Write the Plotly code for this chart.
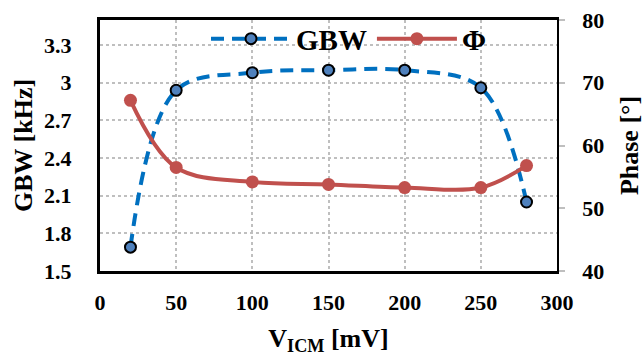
import plotly.graph_objects as go

# Input common-mode voltage sweep and measured results
vicm_mv = [20, 50, 100, 150, 200, 250, 280]
gbw_khz = [1.69, 2.94, 3.08, 3.10, 3.10, 2.96, 2.05]
phase_deg = [67.2, 56.5, 54.2, 53.8, 53.3, 53.3, 56.8]

x_ticks = [0, 50, 100, 150, 200, 250, 300]
gbw_ticks = [1.5, 1.8, 2.1, 2.4, 2.7, 3.0, 3.3]
gbw_tick_text = ["1.5", "1.8", "2.1", "2.4", "2.7", "3", "3.3"]
phase_ticks = [40, 50, 60, 70, 80]

SERIF = "Liberation Serif"
BLUE_LINE = "#0070C0"
BLUE_FILL = "#4F81BD"
RED = "#C0504D"
GRID = "#BFBFBF"


def bold(labels):
    return [f"<b>{t}</b>" for t in labels]


fig = go.Figure()

fig.add_trace(go.Scatter(
    x=vicm_mv, y=gbw_khz, name="GBW", yaxis="y",
    mode="lines+markers",
    line=dict(color=BLUE_LINE, width=4, dash="13px,8px", shape="spline"),
    marker=dict(size=11, color=BLUE_FILL, line=dict(color="black", width=2)),
))

fig.add_trace(go.Scatter(
    x=vicm_mv, y=phase_deg, name="Φ", yaxis="y2",
    mode="lines+markers",
    line=dict(color=RED, width=4, shape="spline"),
    marker=dict(size=13, color=RED),
))

tick_font = dict(family=SERIF, size=22, color="black")
title_font = dict(family=SERIF, size=26, color="black")

fig.update_layout(
    width=644, height=356,
    margin=dict(l=100, r=87, t=20, b=85),
    paper_bgcolor="white", plot_bgcolor="white",
    font=dict(family=SERIF, color="black"),
    showlegend=True,
    legend=dict(
        orientation="h", x=0.232, y=0.925, xanchor="left", yanchor="middle",
        bgcolor="rgba(0,0,0,0)", itemwidth=80,
        font=dict(family=SERIF, size=29, color="black", weight="bold"),
    ),
    xaxis=dict(
        range=[0, 300], tickvals=x_ticks, ticktext=bold(x_ticks),
        tickfont=tick_font, automargin=False,
        showgrid=True, gridcolor=GRID, gridwidth=2, griddash="dot",
        showline=True, linecolor="black", linewidth=3, mirror=True,
        ticks="outside", ticklen=10, tickcolor="rgba(0,0,0,0)",
        zeroline=False,
        title=dict(text="<b>V<sub>ICM</sub> [mV]</b>", font=title_font,
                   standoff=15),
    ),
    yaxis=dict(
        range=[1.5, 3.5], tickvals=gbw_ticks, ticktext=bold(gbw_tick_text),
        tickfont=tick_font, automargin=False,
        showgrid=True, gridcolor=GRID, gridwidth=2, griddash="dot",
        showline=True, linecolor="black", linewidth=3,
        ticks="outside", ticklen=21, tickcolor="rgba(0,0,0,0)",
        zeroline=False,
        title=dict(text="<b>GBW [kHz]</b>", font=title_font, standoff=4),
    ),
    yaxis2=dict(
        range=[40, 80], tickvals=phase_ticks, ticktext=bold(phase_ticks),
        tickfont=tick_font, automargin=False,
        overlaying="y", side="right", showgrid=False, zeroline=False,
        showline=True, linecolor="black", linewidth=1.5,
        ticks="outside", ticklen=6, tickcolor=GRID, tickwidth=1.5,
        ticklabelstandoff=13,
        title=dict(text="<b>Phase [°]</b>", font=title_font, standoff=20),
    ),
)

fig.write_html("out.html")
